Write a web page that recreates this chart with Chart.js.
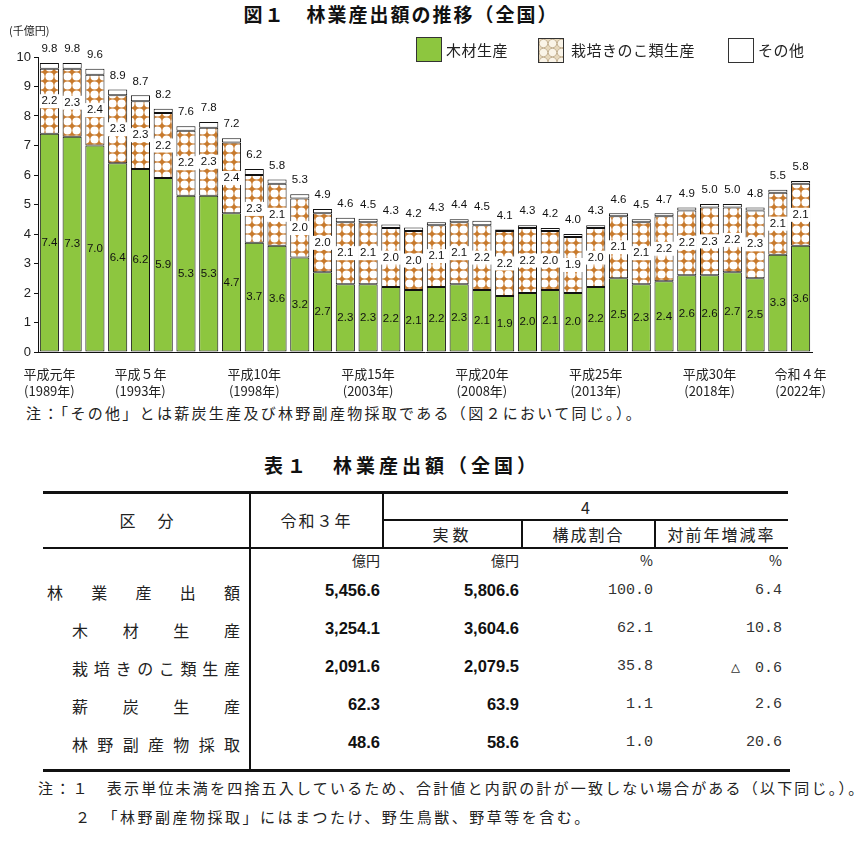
<!DOCTYPE html>
<html lang="ja">
<head>
<meta charset="utf-8">
<script src="https://cdn.jsdelivr.net/npm/chart.js@4.4.0/dist/chart.umd.min.js"></script>
<style>
  body { margin: 0; width: 861px; height: 843px; background: #fff; position: relative; overflow: hidden;
         font-family: "Noto Sans CJK JP", sans-serif; color: #222; }
  .abs { position: absolute; white-space: nowrap; }
  .title { font-size: 19px; font-weight: bold; color: #111; letter-spacing: 2px; }
  .leg { font-size: 15px; letter-spacing: 0.5px; }
  .box { position: absolute; width: 24px; height: 23px; border: 1px solid #333; }
  .note { font-size: 15px; letter-spacing: 2.3px; }
  .line { position: absolute; background: #111; }
  .hd { font-size: 16px; letter-spacing: 2px; text-align: center; }
  .unit { font-size: 14px; text-align: right; }
  .lab { font-size: 16px; text-align: justify; text-align-last: justify; }
  .num { font-family: "Liberation Sans", Arial, sans-serif; font-weight: bold; font-size: 16.5px; text-align: right; color: #111; }
  .mono { font-family: "Liberation Mono", monospace; font-size: 15px; text-align: right; color: #333; }
</style>
</head>
<body>
<div class="abs title" style="left:0;width:802px;top:0;text-align:center;">図１　林業産出額の推移（全国）</div>

<canvas id="chart" width="861" height="400" style="position:absolute;left:0;top:0;"></canvas>

<div class="abs" style="left:9px;top:22px;font-size:11px;">(千億円)</div>

<div class="box" style="left:416px;top:37px;background:#8dc63f;"></div>
<div class="abs leg" style="left:446px;top:39px;">木材生産</div>
<div class="box" id="patBox" style="left:538px;top:38px;"></div>
<div class="abs leg" style="left:571px;top:39px;">栽培きのこ類生産</div>
<div class="box" style="left:728px;top:38px;background:#fff;"></div>
<div class="abs leg" style="left:758px;top:39px;">その他</div>

<div class="abs note" style="left:26px;top:402px;">注：「その他」とは薪炭生産及び林野副産物採取である（図２において同じ。）。</div>

<div class="abs title" style="left:0;width:804px;top:451px;text-align:center;letter-spacing:4px;">表１　林業産出額（全国）</div>

<div id="table"></div>

<div class="abs note" style="left:38px;top:777px;letter-spacing:2.2px;">注：１　表示単位未満を四捨五入しているため、合計値と内訳の計が一致しない場合がある（以下同じ。）。</div>
<div class="abs note" style="left:75px;top:806px;letter-spacing:2.5px;">２　「林野副産物採取」にはまつたけ、野生鳥獣、野草等を含む。</div>

<script>
// 年次
const years = [1989, 1990, 1991, 1992, 1993, 1994, 1995, 1996, 1997, 1998,
               1999, 2000, 2001, 2002, 2003, 2004, 2005, 2006, 2007, 2008,
               2009, 2010, 2011, 2012, 2013, 2014, 2015, 2016, 2017, 2018,
               2019, 2020, 2021, 2022];
// 木材生産 (千億円)
const wood = [7.4, 7.3, 7.0, 6.4, 6.2, 5.9, 5.3, 5.3, 4.7, 3.7,
              3.6, 3.2, 2.7, 2.3, 2.3, 2.2, 2.1, 2.2, 2.3, 2.1,
              1.9, 2.0, 2.1, 2.0, 2.2, 2.5, 2.3, 2.4, 2.6, 2.6,
              2.7, 2.5, 3.3, 3.6];
// 栽培きのこ類生産
const mushroom = [2.2, 2.3, 2.4, 2.3, 2.3, 2.2, 2.2, 2.3, 2.4, 2.3,
                  2.1, 2.0, 2.0, 2.1, 2.1, 2.0, 2.0, 2.1, 2.1, 2.2,
                  2.2, 2.2, 2.0, 1.9, 2.0, 2.1, 2.1, 2.2, 2.2, 2.3,
                  2.2, 2.3, 2.1, 2.1];
// その他
const other = [0.2, 0.2, 0.2, 0.2, 0.2, 0.15, 0.15, 0.2, 0.15, 0.2,
               0.15, 0.15, 0.15, 0.15, 0.12, 0.12, 0.12, 0.1, 0.1, 0.15,
               0.05, 0.1, 0.1, 0.1, 0.1, 0.1, 0.1, 0.1, 0.1, 0.12,
               0.12, 0.1, 0.1, 0.1];
// 合計（棒の上のラベル）
const totals = [9.8, 9.8, 9.6, 8.9, 8.7, 8.2, 7.6, 7.8, 7.2, 6.2,
                5.8, 5.3, 4.9, 4.6, 4.5, 4.3, 4.2, 4.3, 4.4, 4.5,
                4.1, 4.3, 4.2, 4.0, 4.3, 4.6, 4.5, 4.7, 4.9, 5.0,
                5.0, 4.8, 5.5, 5.8];
// 横軸ラベル
const tickLabels = {
  1989: ['平成元年', '(1989年)'],
  1993: ['平成５年', '(1993年)'],
  1998: ['平成10年', '(1998年)'],
  2003: ['平成15年', '(2003年)'],
  2008: ['平成20年', '(2008年)'],
  2013: ['平成25年', '(2013年)'],
  2018: ['平成30年', '(2018年)'],
  2022: ['令和４年', '(2022年)']
};

// 表１
const tableRows = [
  ['林業産出額', '5,456.6', '5,806.6', '100.0', '6.4'],
  ['木材生産', '3,254.1', '3,604.6', '62.1', '10.8'],
  ['栽培きのこ類生産', '2,091.6', '2,079.5', '35.8', '△　0.6'],
  ['薪炭生産', '62.3', '63.9', '1.1', '2.6'],
  ['林野副産物採取', '48.6', '58.6', '1.0', '20.6']
];

// きのこの網目模様（茶色地に白い丸）
function makePattern(bg, fg, r, ring) {
  const c = document.createElement('canvas');
  c.width = 9; c.height = 9;
  const g = c.getContext('2d');
  g.fillStyle = bg;
  g.fillRect(0, 0, 9, 9);
  g.fillStyle = fg;
  g.beginPath();
  g.arc(4.5, 4.5, r, 0, Math.PI * 2);
  g.fill();
  if (ring) {
    g.strokeStyle = ring;
    g.lineWidth = 0.8;
    g.stroke();
  }
  return c;
}
const patCanvas = makePattern('#c87a2c', '#fff', 4.1);
const ctx = document.getElementById('chart').getContext('2d');
const pattern = ctx.createPattern(patCanvas, 'repeat');
document.getElementById('patBox').style.background =
  'url(' + makePattern('#e6d7bb', '#faf4e8', 4.2, '#b9a584').toDataURL() + ')';

// 棒の中と上の数値
const segLabels = {
  id: 'segLabels',
  afterDatasetsDraw(chart) {
    const c = chart.ctx;
    const m0 = chart.getDatasetMeta(0), m1 = chart.getDatasetMeta(1), m2 = chart.getDatasetMeta(2);
    c.save();
    c.font = '11.5px "Liberation Sans", Arial, sans-serif';
    c.textAlign = 'center';
    c.textBaseline = 'middle';
    years.forEach((y, i) => {
      const b0 = m0.data[i], b1 = m1.data[i], b2 = m2.data[i];
      c.fillStyle = '#111';
      c.fillText(wood[i].toFixed(1), b0.x, (b0.y + b0.base) / 2);
      const t = mushroom[i].toFixed(1);
      const yy = (b1.y + b1.base) / 2;
      const w = c.measureText(t).width;
      c.fillStyle = '#fff';
      c.fillRect(b1.x - w / 2 - 2, yy - 7, w + 4, 14);
      c.fillStyle = '#111';
      c.fillText(t, b1.x, yy);
      c.fillText(totals[i].toFixed(1), b2.x, b2.y - 14);
    });
    c.restore();
  }
};

const common = { borderColor: '#111', borderWidth: 1, borderSkipped: false,
                 barPercentage: 0.84, categoryPercentage: 1.0 };

new Chart(ctx, {
  type: 'bar',
  data: {
    labels: years,
    datasets: [
      Object.assign({ label: '木材生産', data: wood, backgroundColor: '#8dc63f' }, common),
      Object.assign({ label: '栽培きのこ類生産', data: mushroom, backgroundColor: pattern }, common),
      Object.assign({ label: 'その他', data: other, backgroundColor: '#fff' }, common)
    ]
  },
  options: {
    responsive: false,
    animation: false,
    layout: { padding: { top: 57, right: 49, left: 0, bottom: 0 } },
    plugins: { legend: { display: false }, tooltip: { enabled: false } },
    scales: {
      x: {
        stacked: true,
        grid: { display: false },
        border: { color: '#111' },
        ticks: {
          autoSkip: false, maxRotation: 0, padding: 6, color: '#222',
          font: { size: 13, family: '"Noto Sans CJK JP", sans-serif', lineHeight: 1.3 },
          callback: (v, i) => tickLabels[years[i]] || ''
        },
        afterFit: s => { s.height = 48; }
      },
      y: {
        stacked: true, min: 0, max: 10,
        grid: { drawOnChartArea: false, drawTicks: true, tickLength: 4, color: '#111' },
        border: { color: '#111' },
        ticks: { stepSize: 1, padding: 3, color: '#222',
                 font: { size: 13, family: '"Liberation Sans", Arial, sans-serif' } },
        afterFit: s => { s.width = 38; }
      }
    }
  },
  plugins: [segLabels]
});

// 表を組み立てる
const tb = document.getElementById('table');
function add(cls, style, text) {
  const d = document.createElement('div');
  d.className = cls;
  d.style.cssText = style;
  if (text !== undefined) d.textContent = text;
  tb.appendChild(d);
}
// 罫線
add('line', 'left:43px;top:491px;width:745px;height:3px;');
add('line', 'left:383px;top:519px;width:405px;height:2px;');
add('line', 'left:43px;top:547px;width:745px;height:2px;');
add('line', 'left:43px;top:769px;width:747px;height:3px;');
add('line', 'left:249px;top:491px;width:2px;height:280px;');
add('line', 'left:382px;top:491px;width:2px;height:57px;');
add('line', 'left:521px;top:519px;width:2px;height:29px;');
add('line', 'left:654px;top:519px;width:2px;height:29px;');
// 見出し
add('abs hd', 'left:43px;width:207px;top:508px;letter-spacing:22px;text-indent:22px;', '区分');
add('abs hd', 'left:250px;width:133px;top:508px;', '令和３年');
add('abs hd', 'left:383px;width:405px;top:495px;letter-spacing:0;', '4');
add('abs hd', 'left:383px;width:139px;top:522px;letter-spacing:4px;', '実数');
add('abs hd', 'left:522px;width:133px;top:522px;', '構成割合');
add('abs hd', 'left:655px;width:133px;top:522px;', '対前年増減率');
// 単位
add('abs unit', 'left:250px;width:130px;top:550px;', '億円');
add('abs unit', 'left:383px;width:136px;top:550px;', '億円');
add('abs unit', 'left:522px;width:131px;top:550px;', '%');
add('abs unit', 'left:655px;width:127px;top:550px;', '%');
// 数値
tableRows.forEach((r, i) => {
  const top = 581 + i * 38;
  const left = i === 0 ? 47 : 72;
  add('abs lab', 'left:' + left + 'px;width:' + (240 - left) + 'px;top:' + (top - 1) + 'px;', r[0]);
  add('abs num', 'left:250px;width:130px;top:' + top + 'px;', r[1]);
  add('abs num', 'left:383px;width:136px;top:' + top + 'px;', r[2]);
  add('abs mono', 'left:522px;width:131px;top:' + (top + 1) + 'px;', r[3]);
  add('abs mono', 'left:655px;width:127px;top:' + (top + 1) + 'px;', r[4]);
});
</script>
</body>
</html>
